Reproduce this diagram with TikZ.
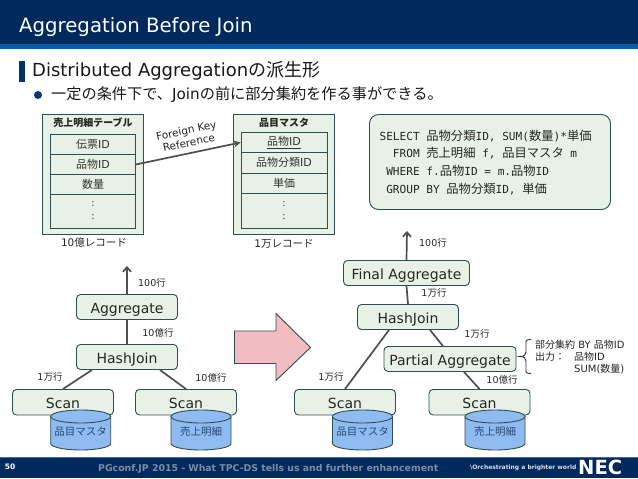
\documentclass[tikz,border=0pt]{standalone}
\usepackage{fontspec}
\setmainfont{DejaVu Sans}
\newfontfamily\cjk{Noto Sans CJK JP}
\newfontfamily\mono{DejaVu Sans Mono}
\newcommand{\J}[1]{{\cjk #1}}
\newcommand{\SJ}[1]{{\cjk\fontsize{12.3}{13}\selectfont #1}}
\usetikzlibrary{arrows.meta}
\definecolor{navy}{HTML}{002A5C}
\definecolor{stripe}{HTML}{0A5AA8}
\definecolor{boxfill}{HTML}{E8F1E5}
\definecolor{boxline}{HTML}{2C4F56}
\definecolor{conn}{HTML}{4F4F4F}
\definecolor{cylfill}{HTML}{8FBBF0}
\definecolor{pinkfill}{HTML}{F2BDC1}
\definecolor{foot}{HTML}{7D8DA6}
\tikzset{
  opbox/.style={draw=boxline,fill=boxfill,line width=0.9pt,rounded corners=4pt,inner sep=0pt,text=black!85,font=\fontsize{14}{17}\selectfont,text height=12pt,text depth=0pt},
  sqlframe/.style={draw=boxline,fill=boxfill,line width=0.9pt,rounded corners=9pt,inner sep=0pt},
  tblouter/.style={draw=boxline,fill=boxfill,line width=0.9pt,inner sep=0pt},
  cell/.style={draw=boxline,fill=boxfill,line width=0.8pt,inner sep=0pt,font=\fontsize{11}{13}\selectfont,text=black!80},
  lbl/.style={inner sep=0pt,font=\fontsize{9.5}{11}\selectfont,text=black!85},
  note/.style={lbl,anchor=west,font=\fontsize{10}{12}\selectfont},
  link/.style={draw=conn,line width=1.7pt},
  flow/.style={draw=conn,line width=1.7pt,-{Straight Barb[length=4.5pt,width=8pt]}},
  dbshape/.style={draw=boxline,line width=0.9pt,fill=cylfill},
  dbt/.style={inner sep=0pt,font=\cjk\fontsize{10.5}{12}\selectfont,text=navy!85},
  sql/.style={anchor=west,inner sep=0pt,font=\mono\fontsize{11.1}{13}\selectfont,text=black!85}
}
\newcommand{\K}[1]{\makebox[40pt][r]{#1}}
\newcommand{\DB}[3]{%
  \path[dbshape] (#1-30,416.5) -- (#1-30,443.5) arc[start angle=180,end angle=360,x radius=30pt,y radius=6.5pt] -- (#1+30,416.5) -- cycle;
  \path[dbshape] (#1,416.5) ellipse[x radius=30pt,y radius=6.5pt];
  \node[dbt] (#2) at (#1,432) {#3};
}
\begin{document}
\begin{tikzpicture}[x=1pt,y=-1pt]
\useasboundingbox (0,0) rectangle (638,479);
\fill[white] (0,0) rectangle (638,479);
% title band
\fill[navy] (0,0) rectangle (638,44);
\fill[stripe] (0,44) rectangle (638,48.5);
\node[anchor=west,inner sep=0pt,text=white,font=\fontsize{19.7}{22}\selectfont] (title) at (19,27) {Aggregation Before Join};
\fill[navy!80!stripe] (18.5,61) rectangle (25,82);
\node[anchor=west,inner sep=0pt,font=\fontsize{18}{20}\selectfont,text=black!90] (h1) at (32,71) {Distributed Aggregation\J{の派生形}};
\fill[navy!75!stripe] (38,95) circle (4pt);
\node[anchor=west,inner sep=0pt,font=\fontsize{15.2}{17}\selectfont,text=black!90] (h2) at (51,95) {\J{一定の条件下で、}Join\J{の前に部分集約を作る事ができる。}};
% left table
\node[tblouter,minimum width=101pt,minimum height=120pt] (tA) at (93,174.5) {};
\node[inner sep=0pt,font=\cjk\bfseries\fontsize{10}{12}\selectfont,text=black!85] (tAh) at (93,122.5) {売上明細テーブル};
\node[cell,minimum width=85pt,minimum height=20pt] (a1) at (93,144.5) {\J{伝票}ID};
\node[cell,minimum width=85pt,minimum height=20pt] (a2) at (93,164.5) {\J{品物}ID};
\node[cell,minimum width=85pt,minimum height=20pt] (a3) at (93,184.5) {\J{数量}};
\node[cell,minimum width=85pt,minimum height=34pt] (a4) at (93,211.5) {};
\node[lbl] (a4x) at (93,204.5) {:};
\node[lbl] (a4y) at (93,217.5) {:};
\node[lbl,font=\fontsize{10.5}{12}\selectfont] (aN) at (94,243) {10\J{億レコード}};
% right table
\node[tblouter,minimum width=101pt,minimum height=120pt] (tB) at (284,174.5) {};
\node[inner sep=0pt,font=\cjk\bfseries\fontsize{10}{12}\selectfont,text=black!85] (tBh) at (284,122.5) {品目マスタ};
\node[cell,minimum width=86pt,minimum height=20pt] (b1) at (284,142.5) {\underline{\J{品物}ID}};
\node[cell,minimum width=86pt,minimum height=20.5pt] (b2) at (284,162.7) {\J{品物分類}ID};
\node[cell,minimum width=86pt,minimum height=20pt] (b3) at (284,183) {\J{単価}};
\node[cell,minimum width=86pt,minimum height=35pt] (b4) at (284,210.5) {};
\node[lbl] (b4x) at (284,204.5) {:};
\node[lbl] (b4y) at (284,217.5) {:};
\node[lbl,font=\fontsize{10.5}{12}\selectfont] (bN) at (284,244) {1\J{万レコード}};
\draw[link,-{Stealth[length=7pt,width=7pt]}] (a2.east) -- (b1.west);
\node[inner sep=0pt,rotate=12,align=center,font=\fontsize{10.5}{12.5}\selectfont,text=black!85] (fk) at (187.5,136.5) {Foreign Key\\Reference};
% sql
\node[sqlframe,minimum width=241pt,minimum height=95pt] (sqlbox) at (490,162) {};
\node[sql] (s1) at (379.5,136) {\K{SELECT} \SJ{品物分類}ID, SUM(\SJ{数量})*\SJ{単価}};
\node[sql] (s2) at (379.5,153) {\K{FROM} \SJ{売上明細} f, \SJ{品目マスタ} m};
\node[sql] (s3) at (379.5,171) {\K{WHERE} f.\SJ{品物}ID = m.\SJ{品物}ID};
\node[sql] (s4) at (379.5,189) {\K{GROUP} BY \SJ{品物分類}ID, \SJ{単価}};
% left plan
\node[opbox,minimum width=101pt,minimum height=25pt] (agg) at (127,307) {Aggregate};
\node[opbox,minimum width=101pt,minimum height=25pt] (hjL) at (127,357) {HashJoin};
\node[opbox,minimum width=101pt,minimum height=25.5pt] (sA) at (63,402.2) {Scan};
\node[opbox,minimum width=101pt,minimum height=25.5pt] (sB) at (186,402.2) {Scan};
\coordinate (outL) at (127,266);
\draw[flow] (agg.north) -- (outL);
\draw[link] (agg.south) -- (hjL.north);
\draw[link] ([xshift=-35pt]hjL.south) -- (sA.north);
\draw[link] ([xshift=33pt]hjL.south) -- (sB.north);
\node[lbl] (l1) at (152,283) {100\J{行}};
\node[lbl] (l2) at (158,333) {10\J{億行}};
\node[lbl] (l3) at (50,377) {1\J{万行}};
\node[lbl] (l4) at (211,378) {10\J{億行}};
\DB{80.7}{cA}{品目マスタ}
\DB{201}{cB}{売上明細}
% pink arrow
\draw[fill=pinkfill,draw=boxline,line width=0.9pt] (234.5,331) -- (276,331) -- (276,313.5) -- (310.5,347.5) -- (276,380.5) -- (276,363.5) -- (234.5,363.5) -- cycle;
% right plan
\node[opbox,minimum width=126pt,minimum height=25pt] (fin) at (406.5,273) {Final Aggregate};
\node[opbox,minimum width=101pt,minimum height=25pt] (hjR) at (408,317) {HashJoin};
\node[opbox,minimum width=132pt,minimum height=25pt] (pa) at (450,359) {Partial Aggregate};
\node[opbox,minimum width=101pt,minimum height=25.5pt] (sC) at (345,402.2) {Scan};
\node[opbox,minimum width=101pt,minimum height=25.5pt] (sD) at (479.5,402.2) {Scan};
\coordinate (outR) at (407,231);
\draw[flow] (fin.north) -- (outR);
\draw[link] (fin.south) -- (hjR.north);
\draw[link] ([xshift=-19pt]hjR.south) -- (sC.north);
\draw[link] ([xshift=22pt]hjR.south) -- ([xshift=-7pt]pa.north);
\draw[link] ([xshift=14pt]pa.south) -- (sD.north);
\node[lbl] (r1) at (433,243) {100\J{行}};
\node[lbl] (r2) at (434,293) {1\J{万行}};
\node[lbl] (r3) at (477,334) {1\J{万行}};
\node[lbl] (r4) at (331,377) {1\J{万行}};
\node[lbl] (r5) at (502,380) {10\J{億行}};
\DB{362.5}{cC}{品目マスタ}
\DB{495}{cD}{売上明細}
% brace
\coordinate (bTop) at (531,339.5);
\coordinate (bBot) at (531,373.5);
\draw[draw=black!80,line width=0.9pt] (bTop) .. controls (525,339.5) and (526,341) .. (526,344) -- (526,352) .. controls (526,355) and (524,356.5) .. (520,356.5) .. controls (524,356.5) and (526,358) .. (526,361) -- (526,369) .. controls (526,372) and (525,373.5) .. (bBot);
\node[note] (n1) at (535,345) {\J{部分集約} BY \J{品物}ID};
\node[note] (n2) at (535,356.5) {\J{出力：}};
\node[note] (n3) at (574,356.5) {\J{品物}ID};
\node[note] (n4) at (574,368.5) {SUM(\J{数量})};
% footer
\fill[navy] (0,457) rectangle (638,478);
\draw[navy!70!white,line width=0.8pt] (0,457.4) -- (638,457.4);
\node[inner sep=0pt,text=white,font=\bfseries\fontsize{7.5}{9}\selectfont] (pg) at (10,467) {50};
\node[anchor=west,inner sep=0pt,text=foot,font=\bfseries\fontsize{9.35}{11}\selectfont] (ft) at (98,469) {PGconf.JP 2015 - What TPC-DS tells us and further enhancement};
\node[anchor=west,inner sep=0pt,text=white!85!navy,font=\bfseries\fontsize{6}{8}\selectfont] (or) at (470,467.5) {\textbackslash Orchestrating a brighter world};
\node[anchor=west,inner sep=0pt,text=white,font=\bfseries\fontsize{19.5}{21}\selectfont] (nec) at (578,467.5) {NEC};
\end{tikzpicture}
\end{document}
